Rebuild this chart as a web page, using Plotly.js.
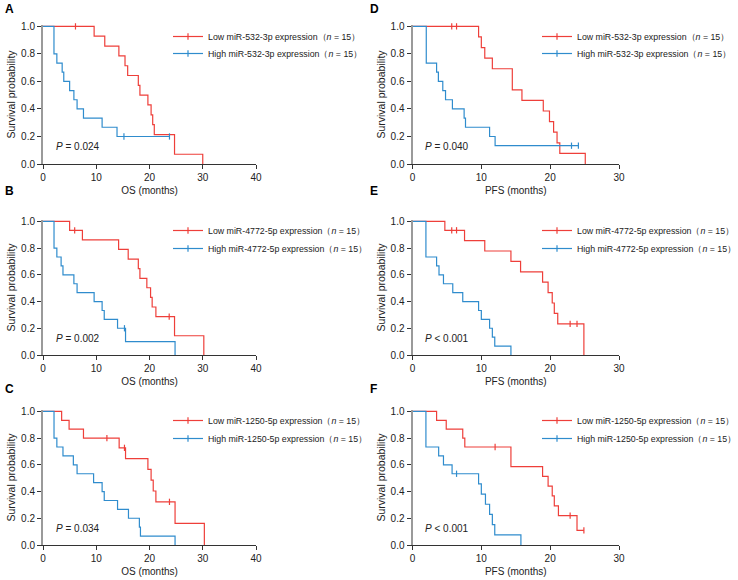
<!DOCTYPE html>
<html>
<head>
<meta charset="utf-8">
<script src="https://cdn.plot.ly/plotly-3.0.1.min.js"></script>
<style>html,body{margin:0;padding:0;background:#fff;}#chart{width:738px;height:580px;}</style>
</head>
<body>
<div id="chart"></div>
<script>
// ---------- Data (times in months, survival probability) ----------
// Panel A: OS, miR-532-3p
const A_low_t  = [0, 9.6, 11.6, 14.25, 15.4, 15.9, 17.9, 18.2, 19.7, 20.3, 20.6, 20.9, 24.7, 30.0];
const A_low_s  = [1, 0.929, 0.857, 0.786, 0.714, 0.643, 0.571, 0.5, 0.429, 0.357, 0.286, 0.214, 0.071, 0];
const A_low_ct = [6.1];
const A_low_cs = [1.0];
const A_high_t = [0, 2.06, 2.6, 3.6, 3.9, 5.0, 5.8, 6.4, 7.6, 11.1, 13.9, 23.75];
const A_high_s = [1, 0.8, 0.733, 0.667, 0.6, 0.533, 0.467, 0.4, 0.333, 0.267, 0.2, 0.2];
const A_high_ct = [15.2, 23.75];
const A_high_cs = [0.2, 0.2];

// Panel B: OS, miR-4772-5p
const B_low_t  = [0, 5.0, 7.4, 14.2, 16.0, 17.9, 18.2, 19.5, 20.2, 20.5, 21.2, 24.7, 30.2];
const B_low_s  = [1, 0.933, 0.862, 0.79, 0.718, 0.646, 0.574, 0.503, 0.431, 0.359, 0.287, 0.144, 0];
const B_low_ct = [5.95, 23.7];
const B_low_cs = [0.933, 0.287];
const B_high_t = [0, 2.07, 2.6, 3.4, 3.75, 5.8, 6.4, 9.6, 11.1, 11.5, 14.0, 15.5, 24.8];
const B_high_s = [1, 0.8, 0.733, 0.667, 0.6, 0.533, 0.467, 0.4, 0.333, 0.267, 0.2, 0.1, 0];
const B_high_ct = [15.3];
const B_high_cs = [0.2];

// Panel C: OS, miR-1250-5p
const C_low_t  = [0, 3.5, 4.9, 7.6, 14.3, 15.5, 19.7, 20.3, 20.7, 21.2, 24.8, 30.3];
const C_low_s  = [1, 0.933, 0.867, 0.8, 0.727, 0.646, 0.566, 0.485, 0.404, 0.323, 0.162, 0];
const C_low_ct = [12.0, 15.3, 23.75];
const C_low_cs = [0.8, 0.727, 0.323];
const C_high_t = [0, 2.07, 2.6, 3.75, 5.7, 6.4, 9.5, 11.1, 11.5, 14.0, 16.05, 18.1, 18.3, 24.8];
const C_high_s = [1, 0.8, 0.733, 0.667, 0.6, 0.533, 0.467, 0.4, 0.333, 0.267, 0.2, 0.133, 0.067, 0];
const C_high_ct = [];
const C_high_cs = [];

// Panel D: PFS, miR-532-3p
const D_low_t  = [0, 9.6, 10.0, 10.5, 11.6, 14.5, 15.9, 19.0, 19.9, 20.5, 21.0, 21.4, 25.1];
const D_low_s  = [1, 0.923, 0.846, 0.769, 0.692, 0.538, 0.462, 0.385, 0.308, 0.231, 0.154, 0.077, 0];
const D_low_ct = [5.7, 6.4];
const D_low_cs = [1.0, 1.0];
const D_high_t = [0, 2.0, 3.5, 3.76, 4.4, 4.8, 5.8, 7.5, 7.7, 11.2, 12.0, 24.1];
const D_high_s = [1, 0.733, 0.667, 0.6, 0.533, 0.467, 0.4, 0.333, 0.267, 0.2, 0.133, 0.133];
const D_high_ct = [23.1, 24.1];
const D_high_cs = [0.133, 0.133];

// Panel E: PFS, miR-4772-5p
const E_low_t  = [0, 4.7, 7.56, 10.5, 14.3, 15.7, 18.9, 19.7, 20.3, 20.6, 21.1, 24.9];
const E_low_s  = [1, 0.933, 0.856, 0.778, 0.7, 0.622, 0.545, 0.467, 0.389, 0.311, 0.233, 0];
const E_low_ct = [5.7, 6.4, 22.9, 23.9];
const E_low_cs = [0.933, 0.933, 0.233, 0.233];
const E_high_t = [0, 1.95, 3.5, 3.85, 4.5, 5.85, 7.3, 9.6, 10.0, 11.2, 11.6, 11.95, 14.3];
const E_high_s = [1, 0.733, 0.667, 0.6, 0.533, 0.467, 0.4, 0.333, 0.267, 0.2, 0.133, 0.067, 0];
const E_high_ct = [];
const E_high_cs = [];

// Panel F: PFS, miR-1250-5p
const F_low_t  = [0, 3.5, 4.9, 7.3, 7.6, 14.3, 18.9, 19.7, 20.3, 20.6, 21.2, 23.9, 24.9];
const F_low_s  = [1, 0.933, 0.867, 0.8, 0.733, 0.587, 0.513, 0.44, 0.367, 0.293, 0.22, 0.11, 0.11];
const F_low_ct = [12.0, 22.9, 24.9];
const F_low_cs = [0.733, 0.22, 0.11];
const F_high_t = [0, 1.95, 3.8, 4.5, 5.75, 9.6, 10.0, 10.6, 11.2, 11.6, 11.95, 15.75];
const F_high_s = [1, 0.733, 0.667, 0.6, 0.533, 0.457, 0.381, 0.305, 0.229, 0.152, 0.076, 0];
const F_high_ct = [6.4];
const F_high_cs = [0.533];

const panelLetters = ['A', 'B', 'C', 'D', 'E', 'F'];
const mirNames = ['miR-532-3p', 'miR-4772-5p', 'miR-1250-5p', 'miR-532-3p', 'miR-4772-5p', 'miR-1250-5p'];
const xTitles = ['OS (months)', 'OS (months)', 'OS (months)', 'PFS (months)', 'PFS (months)', 'PFS (months)'];
const pTexts = ['= 0.024', '= 0.002', '= 0.034', '= 0.040', '< 0.001', '< 0.001'];
const groupN = [15, 15, 15, 15, 15, 15];

const curves = [
  [A_low_t, A_low_s, A_low_ct, A_low_cs, A_high_t, A_high_s, A_high_ct, A_high_cs],
  [B_low_t, B_low_s, B_low_ct, B_low_cs, B_high_t, B_high_s, B_high_ct, B_high_cs],
  [C_low_t, C_low_s, C_low_ct, C_low_cs, C_high_t, C_high_s, C_high_ct, C_high_cs],
  [D_low_t, D_low_s, D_low_ct, D_low_cs, D_high_t, D_high_s, D_high_ct, D_high_cs],
  [E_low_t, E_low_s, E_low_ct, E_low_cs, E_high_t, E_high_s, E_high_ct, E_high_cs],
  [F_low_t, F_low_s, F_low_ct, F_low_cs, F_high_t, F_high_s, F_high_ct, F_high_cs]
];

// ---------- Layout geometry ----------
const W = 738, H = 580;
const RED = '#ee3f3a', BLUE = '#2f8ccd';
const FONT = 'Liberation Sans, Arial, Helvetica, sans-serif';
const colX = [[43, 256], [412.5, 619]];
const rowY = [[25, 164], [220, 355], [410, 545]];
const xMax = [40, 30];
const letterY = [9, 191, 389];
const legRowCenter = [[37, 54], [231, 249], [421, 439]];
const legLeft = [168, 537];
const LEG_OFF = 15;
const pX = [2, 1.5];

const traces = [];
const layout = {
  width: W, height: H,
  margin: {l: 0, r: 0, t: 0, b: 0, autoexpand: false},
  paper_bgcolor: '#fff', plot_bgcolor: 'rgba(0,0,0,0)',
  font: {family: FONT, size: 10, color: '#222'},
  showlegend: true,
  annotations: []
};

function tickMarker(c) {
  return {symbol: 'line-ns-open', size: 4.5, color: c, line: {color: c, width: 1.2}};
}

let legIdx = 0;
for (let i = 0; i < 6; i++) {
  const col = i < 3 ? 0 : 1;
  const row = i % 3;
  const sfx = i === 0 ? '' : String(i + 1);
  const xa = 'x' + sfx, ya = 'y' + sfx;
  const [lt, ls, lct, lcs, ht, hs, hct, hcs] = curves[i];

  layout['xaxis' + sfx] = {
    domain: [colX[col][0] / W, colX[col][1] / W],
    anchor: ya, range: [0, xMax[col]], dtick: 10,
    showline: true, linecolor: '#333', linewidth: 1,
    ticks: 'outside', ticklen: 4, tickcolor: '#333', tickwidth: 1,
    showgrid: false, zeroline: false, fixedrange: true, automargin: true,
    tickfont: {size: 10, color: '#222'},
    title: {text: xTitles[i], font: {size: 10, color: '#222'}, standoff: 4}
  };
  layout['yaxis' + sfx] = {
    domain: [1 - rowY[row][1] / H, 1 - rowY[row][0] / H],
    anchor: xa, range: [0, 1.01], tickvals: [0, 0.2, 0.4, 0.6, 0.8, 1.0], tickformat: '.1f',
    showline: true, linecolor: '#9a9a9a', linewidth: 2,
    ticks: 'outside', ticklen: 4, tickcolor: '#333', tickwidth: 1,
    showgrid: false, zeroline: false, fixedrange: true, automargin: true,
    tickfont: {size: 10, color: '#222'},
    title: {text: 'Survival probability', font: {size: 10.5, color: '#222'}, standoff: 3}
  };

  // step curves
  traces.push({x: lt, y: ls, xaxis: xa, yaxis: ya, mode: 'lines', line: {shape: 'hv', color: RED, width: 1.2}, showlegend: false, hoverinfo: 'skip'});
  traces.push({x: ht, y: hs, xaxis: xa, yaxis: ya, mode: 'lines', line: {shape: 'hv', color: BLUE, width: 1.2}, showlegend: false, hoverinfo: 'skip'});
  // censor ticks
  traces.push({x: lct, y: lcs, xaxis: xa, yaxis: ya, mode: 'markers', cliponaxis: false, marker: tickMarker(RED), showlegend: false, hoverinfo: 'skip'});
  traces.push({x: hct, y: hcs, xaxis: xa, yaxis: ya, mode: 'markers', cliponaxis: false, marker: tickMarker(BLUE), showlegend: false, hoverinfo: 'skip'});

  // legend entries, one legend each so the rows can be placed exactly
  const entries = [
    ['Low ' + mirNames[i] + ' expression（<i>n</i> = ' + groupN[i] + '）', RED],
    ['High ' + mirNames[i] + ' expression（<i>n</i> = ' + groupN[i] + '）', BLUE]
  ];
  entries.forEach((e, k) => {
    legIdx++;
    const leg = legIdx === 1 ? 'legend' : 'legend' + legIdx;
    traces.push({x: [null], y: [null], xaxis: xa, yaxis: ya, mode: 'lines+markers', legend: leg,
      name: e[0], line: {color: e[1], width: 1.2}, marker: tickMarker(e[1])});
    layout[leg] = {
      x: legLeft[col] / W, y: 1 - (legRowCenter[row][k] - LEG_OFF) / H, xanchor: 'left', yanchor: 'top',
      bgcolor: 'rgba(0,0,0,0)', borderwidth: 0,
      font: {size: 8.8, color: '#222', family: FONT}
    };
  });

  layout.annotations.push({
    xref: xa, yref: ya, x: pX[col], y: 0.125, xanchor: 'left', yanchor: 'middle', showarrow: false,
    text: '<i>P</i> ' + pTexts[i], font: {size: 10, color: '#222'}
  });
  layout.annotations.push({
    xref: 'paper', yref: 'paper', x: (col === 0 ? 3 : 368) / W, y: 1 - letterY[row] / H,
    xanchor: 'left', yanchor: 'middle', showarrow: false,
    text: '<b>' + panelLetters[i] + '</b>', font: {size: 12, color: '#000'}
  });
}

Plotly.newPlot('chart', traces, layout, {staticPlot: true, displayModeBar: false});
</script>
</body>
</html>
